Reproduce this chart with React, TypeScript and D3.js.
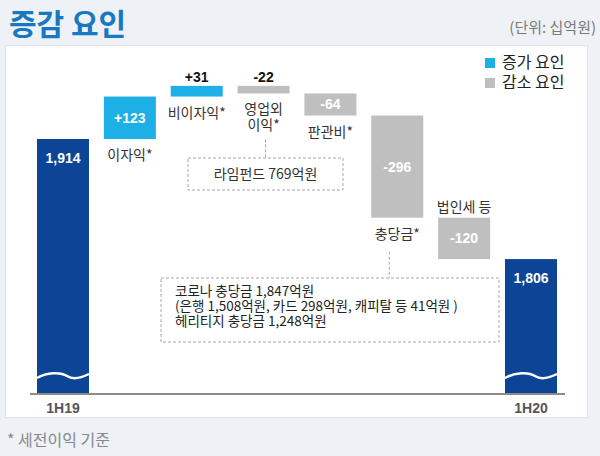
import React from 'react';
import * as d3 from 'd3';

const categories = ['1H19', '이자익*', '비이자익*', '영업외|이익*', '판관비*', '충당금*', '법인세 등', '1H20'];
const values = [1914, 123, 31, -22, -64, -296, -120, 1806];
const kinds = ['total', 'delta', 'delta', 'delta', 'delta', 'delta', 'delta', 'total'];
const valueLabels = ['1,914', '+123', '+31', '-22', '-64', '-296', '-120', '1,806'];
const legendItems = ['증가 요인', '감소 요인'];
const note1 = ['라임펀드 769억원'];
const note2 = ['코로나 충당금 1,847억원', '(은행 1,508억원, 카드 298억원, 캐피탈 등 41억원 )', '헤리티지 충당금 1,248억원'];

const W = 600, H = 456;
const KR = '"Noto Sans CJK KR", "Noto Sans", sans-serif';
const AR = '"Liberation Sans", Arial, sans-serif';
const C_TOTAL = '#0c4596';
const C_UP = '#1cb0e6';
const C_DOWN = '#bfbfbf';

export default function App() {
  const x = d3.scaleBand<number>().domain(d3.range(categories.length)).range([37, 557]).paddingInner(0.222).paddingOuter(0);
  const y = d3.scaleLinear().domain([1175, 1914]).range([394, 139]);
  const bw = x.bandwidth();

  let running = values[0];
  const bars = values.map((v, i) => {
    if (kinds[i] === 'total') {
      const top = i === 0 ? v : running;
      if (i === 0) running = v;
      return { i, y0: y(top), y1: y(1175), kind: 'total' };
    }
    const start = running;
    running = running + v;
    return { i, y0: y(Math.max(start, running)), y1: y(Math.min(start, running)), kind: v >= 0 ? 'up' : 'down' };
  });
  const color = (k: string) => (k === 'total' ? C_TOTAL : k === 'up' ? C_UP : C_DOWN);
  const cx = (i: number) => (x(i) as number) + bw / 2;

  const valuePos = ['inTop', 'in', 'above', 'above', 'in', 'in', 'in', 'inTop'];
  const catPos = ['axis', 'below', 'below', 'below', 'below', 'below', 'above', 'axis'];

  const b3 = bars[3], b5 = bars[5];
  const box1 = { x0: 188, x1: 343, y0: 158, y1: 190 };
  const box2 = { x0: 161, x1: 499, y0: 278, y1: 342 };

  return (
    <svg width={W} height={H} style={{ position: 'absolute', left: 0, top: 0 }} xmlns="http://www.w3.org/2000/svg">
      <rect x={0} y={0} width={W} height={H} fill="#eef2f7" />
      <rect x={5.5} y={45.5} width={582} height={372} fill="#ffffff" stroke="#dfe4ea" strokeWidth={1} />
      <text x={9} y={35} fontFamily={KR} fontWeight={700} fontSize={30} fill="#1878c0">증감 요인</text>
      <text x={596} y={33} textAnchor="end" fontFamily={KR} fontSize={15} fill="#7a7a7a">(단위: 십억원)</text>

      {legendItems.map((t, i) => (
        <g key={t} transform={`translate(485, ${58 + i * 20})`}>
          <rect x={0} y={0} width={10} height={10} fill={i === 0 ? C_UP : C_DOWN} />
          <text x={17} y={10} fontFamily={KR} fontSize={16} fill="#222">{t}</text>
        </g>
      ))}

      {bars.map((b) => (
        <rect key={b.i} x={x(b.i)} y={b.y0} width={bw} height={b.y1 - b.y0} fill={color(b.kind)} />
      ))}

      {bars.filter((b) => b.kind === 'total').map((b) => {
        const x0 = x(b.i) as number;
        const yw = 376;
        const p = d3.path();
        p.moveTo(x0, yw + 2);
        p.bezierCurveTo(x0 + 10, yw - 4, x0 + 24, yw - 4, x0 + 30, yw);
        p.bezierCurveTo(x0 + 36, yw + 4, x0 + 44, yw + 2, x0 + bw, yw - 2);
        return <path key={'w' + b.i} d={p.toString()} fill="none" stroke="#ffffff" strokeWidth={2.5} />;
      })}

      <line x1={30} x2={565} y1={394} y2={394} stroke="#8c8c8c" strokeWidth={2} />

      {bars.map((b) => {
        const pos = valuePos[b.i];
        let ty: number;
        let fill = '#ffffff';
        if (pos === 'inTop') ty = b.y0 + 24;
        else if (pos === 'in') ty = (b.y0 + b.y1) / 2 + 5;
        else { ty = b.y0 - 4; fill = '#111'; }
        return (
          <text key={'v' + b.i} x={cx(b.i)} y={ty} textAnchor="middle" fontFamily={AR} fontWeight={700} fontSize={14} fill={fill}>
            {valueLabels[b.i]}
          </text>
        );
      })}

      {bars.map((b) => {
        const pos = catPos[b.i];
        const lines = categories[b.i].split('|');
        if (pos === 'axis') {
          return (
            <text key={'c' + b.i} x={cx(b.i)} y={413} textAnchor="middle" fontFamily={AR} fontWeight={700} fontSize={14} fill="#555">
              {categories[b.i]}
            </text>
          );
        }
        const baseY = pos === 'below' ? b.y1 + 21 : b.y0 - 6;
        return (
          <text key={'c' + b.i} x={cx(b.i)} y={baseY} textAnchor="middle" fontFamily={KR} fontSize={14} fill="#333">
            {lines.map((l, k) => (
              <tspan key={k} x={cx(b.i)} dy={k === 0 ? 0 : 16}>{l}</tspan>
            ))}
          </text>
        );
      })}

      <line x1={cx(3) + 2} x2={cx(3) + 2} y1={b3.y1 + 46} y2={box1.y0} stroke="#a8a8a8" strokeDasharray="3,2" />
      <rect x={box1.x0} y={box1.y0} width={box1.x1 - box1.x0} height={box1.y1 - box1.y0} fill="none" stroke="#a8a8a8" strokeDasharray="3,2" />
      <text x={(box1.x0 + box1.x1) / 2} y={179} textAnchor="middle" fontFamily={KR} fontSize={14} fill="#333">{note1[0]}</text>

      <line x1={cx(5) - 8} x2={cx(5) - 8} y1={b5.y1 + 34} y2={box2.y0} stroke="#a8a8a8" strokeDasharray="3,2" />
      <rect x={box2.x0} y={box2.y0} width={box2.x1 - box2.x0} height={box2.y1 - box2.y0} fill="none" stroke="#a8a8a8" strokeDasharray="3,2" />
      {note2.map((t, k) => (
        <text key={'n' + k} x={175} y={296 + k * 15} fontFamily={KR} fontSize={13.5} fill="#222">{t}</text>
      ))}

      <text x={7} y={446} fontFamily={KR} fontSize={16} fill="#888">* 세전이익 기준</text>
    </svg>
  );
}
